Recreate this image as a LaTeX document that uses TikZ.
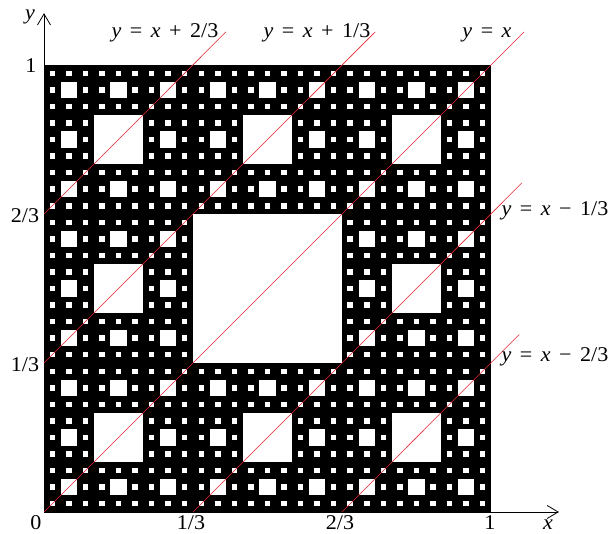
\documentclass[tikz,border=0pt]{standalone}
\usepackage{fontspec}
\setmainfont{Liberation Serif}[FakeStretch=1.05]
\usetikzlibrary{arrows.meta}
\definecolor{lred}{RGB}{235,35,50}
\newcommand{\gp}{\hspace{8.5pt}}
\begin{document}
\begin{tikzpicture}[x=447pt,y=447pt,
  lbl/.style={inner sep=0pt,anchor=base,font=\fontsize{21}{24}\selectfont},
  axis/.style={line width=0.8pt,-{Straight Barb[length=11pt,width=13pt,line width=0.8pt]}},
  redline/.style={lred,line width=0.55pt}]
\useasboundingbox (-44pt,-22pt) rectangle (566pt,512pt);
% carpet
\fill[black] (0,0) rectangle (1,1);
\foreach \k/\n in {1/1,2/3,3/9,4/27}{
  \pgfmathsetmacro{\s}{1/(3^\k)}
  \pgfmathtruncatemacro{\m}{\n-1}
  \foreach \i in {0,...,\m}{
    \foreach \j in {0,...,\m}{
      \fill[white] ({(3*\i+1)*\s},{(3*\j+1)*\s}) rectangle +(\s,\s);
    }
  }
}
% axes
\coordinate (O) at (0,0);
\coordinate (Xend) at (1.152,0);
\coordinate (Yend) at (0,1.116);
\draw[axis] (O) -- (Xend);
\draw[axis] (O) -- (Yend);
% red lines
\coordinate (a0) at (0,2/3);   \coordinate (a1) at (0.407,1.074);
\coordinate (b0) at (0,1/3);   \coordinate (b1) at (0.741,1.074);
\coordinate (c1) at (1.074,1.074);
\coordinate (d0) at (1/3,0);   \coordinate (d1) at (1.069,0.736);
\coordinate (e0) at (2/3,0);   \coordinate (e1) at (1.063,0.397);
\draw[redline] (a0) -- (a1);
\draw[redline] (b0) -- (b1);
\draw[redline] (O) -- (c1);
\draw[redline] (d0) -- (d1);
\draw[redline] (e0) -- (e1);
% line labels
\node[lbl] (la) at (121pt,474pt) {\textit{y}\gp=\gp\textit{x}\gp+\gp2/3};
\node[lbl] (lb) at (273pt,474pt) {\textit{y}\gp=\gp\textit{x}\gp+\gp1/3};
\node[lbl] (lc) at (443pt,474pt) {\textit{y}\gp=\gp\textit{x}};
\node[lbl] (ld) at (511pt,296pt) {\textit{y}\gp=\gp\textit{x}\gp−\gp1/3};
\node[lbl] (le) at (511pt,150pt) {\textit{y}\gp=\gp\textit{x}\gp−\gp2/3};
% axis labels
\node[lbl] (ylab) at (-14pt,492pt) {\textit{y}};
\node[lbl] (xlab) at (504pt,-18pt) {\textit{x}};
\node[lbl] (y1) at (-13pt,439pt) {1};
\node[lbl] (y23) at (-19pt,289pt) {2/3};
\node[lbl] (y13) at (-19pt,140pt) {1/3};
\node[lbl] (o) at (-8pt,-18pt) {0};
\node[lbl] (x13) at (147pt,-18pt) {1/3};
\node[lbl] (x23) at (296pt,-18pt) {2/3};
\node[lbl] (x1) at (446pt,-18pt) {1};
\end{tikzpicture}
\end{document}
